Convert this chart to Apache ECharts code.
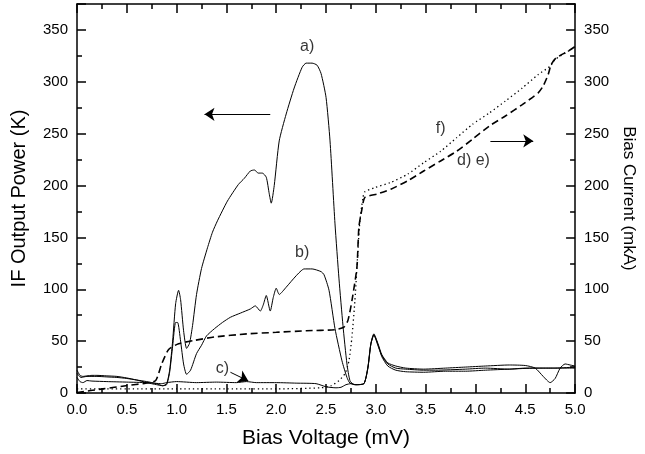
<!DOCTYPE html>
<html>
<head>
<meta charset="utf-8">
<script src="https://cdn.jsdelivr.net/npm/echarts@6/dist/echarts.min.js"></script>
<style>
html,body{margin:0;padding:0;background:#fff;}
#chart{width:645px;height:454px;}
</style>
</head>
<body>
<div id="chart"></div>
<script>
// ---- Data (Bias Voltage mV, value) ----
var xTicks = [0.0, 0.5, 1.0, 1.5, 2.0, 2.5, 3.0, 3.5, 4.0, 4.5, 5.0];
var yTicks = [0, 50, 100, 150, 200, 250, 300, 350];

// IF output power (K), left axis
var curveA = [[0,22],[0.03,17],[0.06,16],[0.1,16.5],[0.15,17],[0.2,17],[0.3,16.5],[0.4,16],[0.5,14.5],[0.6,12.5],[0.7,10],[0.8,8],[0.86,7],[0.9,9],[0.93,22],[0.96,50],[0.99,86],[1.02,99],[1.04,90],[1.07,60],[1.1,43],[1.13,48],[1.16,65],[1.2,95],[1.25,120],[1.31,140],[1.36,155],[1.41,166],[1.51,185],[1.62,201],[1.68,207],[1.74,214],[1.78,215],[1.82,212],[1.86,212],[1.9,208],[1.93,192],[1.95,183],[1.98,200],[2.03,243],[2.1,269],[2.18,294],[2.26,314],[2.3,318],[2.36,318],[2.41,316],[2.45,308],[2.5,285],[2.54,243],[2.59,163],[2.63,110],[2.67,65],[2.71,28],[2.74,12],[2.78,8],[2.88,9],[2.92,25],[2.95,48],[2.98,57],[3.02,48],[3.06,37],[3.12,29],[3.2,26],[3.3,24],[3.48,23],[3.7,24],[3.9,25],[4.1,26],[4.34,27],[4.5,26.5],[4.6,24],[4.68,16],[4.75,10],[4.8,14],[4.85,24],[4.9,28],[4.95,27],[5.0,26]];
var curveB = [[0,19],[0.04,15],[0.1,16],[0.2,16],[0.3,15.5],[0.4,15],[0.5,14],[0.6,12.5],[0.7,11],[0.8,9],[0.86,7],[0.9,8],[0.93,20],[0.96,45],[0.99,68],[1.01,68],[1.04,50],[1.07,28],[1.1,18],[1.14,22],[1.2,38],[1.25,46],[1.3,55],[1.38,62],[1.46,68],[1.54,73],[1.64,77],[1.74,81],[1.79,84],[1.84,79],[1.87,85],[1.9,94],[1.94,79],[1.97,92],[2.0,101],[2.03,95],[2.1,102],[2.2,113],[2.28,119.6],[2.36,119.6],[2.45,117],[2.48,114],[2.53,99],[2.59,62],[2.66,31],[2.71,15],[2.74,9.6],[2.8,8],[2.88,9],[2.92,24],[2.95,47],[2.98,56],[3.02,47],[3.06,35],[3.12,26],[3.2,22],[3.3,20.5],[3.48,20],[3.7,21],[3.9,21],[4.1,22],[4.34,23],[4.6,24],[4.8,24],[5.0,25]];
var curveC = [[0,15],[0.03,11],[0.06,10],[0.1,12],[0.15,11.5],[0.3,11],[0.5,10.5],[0.7,10],[0.85,9],[0.9,10],[1.0,11],[1.2,10],[1.4,10.5],[1.6,10],[1.7,11],[1.8,10],[2.0,10],[2.2,9.5],[2.4,9],[2.5,6],[2.6,5],[2.65,5.5],[2.7,8],[2.75,9],[2.8,8],[2.88,9],[2.92,24],[2.95,47],[2.98,56],[3.02,46],[3.06,36],[3.12,28],[3.2,24],[3.3,23],[3.48,22],[3.6,22],[3.9,23],[4.1,24],[4.34,23],[4.5,24],[4.7,24],[5.0,24]];

// Bias current (mkA), right axis
var curveDE = [[0,0.5],[0.26,4],[0.49,7],[0.69,9.5],[0.79,12],[0.85,28],[0.92,42],[1.02,47.5],[1.18,50.7],[1.38,54],[1.71,57],[2.0,58.5],[2.3,60],[2.59,61],[2.68,63.5],[2.72,70],[2.76,89],[2.81,121],[2.83,160],[2.86,177],[2.89,188.5],[3.02,192],[3.15,196.5],[3.32,204.5],[3.48,214],[3.65,223.7],[3.81,233],[3.97,244.6],[4.14,257.4],[4.3,267],[4.47,278],[4.63,289.4],[4.68,296],[4.73,307],[4.76,316.7],[4.81,323],[4.93,329.5],[5.0,334]];
var curveF = [[0,4],[0.5,4],[1.0,4],[1.5,4],[2.0,4],[2.45,5],[2.55,7],[2.63,12],[2.69,18.6],[2.73,31],[2.76,54],[2.79,89],[2.82,137],[2.84,166],[2.87,188],[2.89,194],[2.99,198],[3.15,203],[3.32,211],[3.48,222],[3.65,233],[3.81,246],[3.97,259],[4.14,270],[4.3,281.4],[4.47,294],[4.63,307],[4.75,315],[4.8,321.5],[4.93,329.5],[5.0,334]];

// Annotations
var labelNames = ['a)', 'b)', 'c)', 'f)', 'd) e)'];
var labelPos = [[2.31,333.5],[2.26,135.7],[1.46,23.8],[3.65,255],[3.98,224.5]];
var arrowLeft = [[1.94,268.6],[1.28,268.6]];
var arrowRight = [[4.15,243],[4.58,243]];
var arrowC = [[1.54,20],[1.72,11.6]];

var FONT = 'Liberation Sans, Arial, sans-serif';
var chart = echarts.init(document.getElementById('chart'), null, {renderer:'canvas'});

function fmtX(v){ return xTicks.indexOf(Math.round(v*10)/10) >= 0 ? v.toFixed(1) : ''; }
function fmtY(v){ return yTicks.indexOf(v) >= 0 ? String(v) : ''; }

function axLine(){ return {show:true, onZero:false, lineStyle:{color:'#000', width:1.5}}; }
function tick(){ return {show:true, inside:true, length:9, lineStyle:{color:'#000', width:1.5}}; }
function minor(){ return {show:true, splitNumber:2, length:5, lineStyle:{color:'#000', width:1.5}}; }

function arrowLine(pts){
  return [{coord:pts[0]},{coord:pts[1]}];
}

var option = {
  animation:false,
  backgroundColor:'#fff',
  grid:{left:77, right:61, top:4, bottom:61},
  xAxis:[
    {type:'value', position:'bottom', min:0, max:5, interval:0.5,
     axisLine:axLine(), axisTick:tick(), minorTick:minor(), splitLine:{show:false},
     axisLabel:{color:'#000', fontFamily:FONT, fontSize:15, margin:9, formatter:fmtX},
     name:'Bias Voltage (mV)', nameLocation:'middle', nameGap:35,
     nameTextStyle:{color:'#000', fontFamily:FONT, fontSize:21}},
    {type:'value', position:'top', min:0, max:5, interval:0.5,
     axisLine:axLine(), axisTick:tick(), minorTick:minor(), splitLine:{show:false},
     axisLabel:{show:false}}
  ],
  yAxis:[
    {type:'value', position:'left', min:0, max:375, interval:50,
     axisLine:axLine(), axisTick:tick(), minorTick:minor(), splitLine:{show:false},
     axisLabel:{color:'#000', fontFamily:FONT, fontSize:15, margin:9, formatter:fmtY, showMaxLabel:false},
     name:'IF Output Power (K)', nameLocation:'middle', nameGap:48, nameRotate:90,
     nameTextStyle:{color:'#000', fontFamily:FONT, fontSize:20}},
    {type:'value', position:'right', min:0, max:375, interval:50,
     axisLine:axLine(), axisTick:tick(), minorTick:minor(), splitLine:{show:false},
     axisLabel:{color:'#000', fontFamily:FONT, fontSize:15, margin:9, formatter:fmtY, showMaxLabel:false},
     name:'Bias Current (mkA)', nameLocation:'middle', nameGap:44, nameRotate:-90,
     nameTextStyle:{color:'#000', fontFamily:FONT, fontSize:17}}
  ],
  series:[
    {type:'line', name:'a', data:curveA, xAxisIndex:0, yAxisIndex:0, showSymbol:false, smooth:0.2,
     lineStyle:{color:'#000', width:1}},
    {type:'line', name:'b', data:curveB, xAxisIndex:0, yAxisIndex:0, showSymbol:false, smooth:0.2,
     lineStyle:{color:'#000', width:1}},
    {type:'line', name:'c', data:curveC, xAxisIndex:0, yAxisIndex:0, showSymbol:false, smooth:0.2,
     lineStyle:{color:'#000', width:1}},
    {type:'line', name:'de', data:curveDE, xAxisIndex:0, yAxisIndex:1, showSymbol:false, smooth:0.2,
     lineStyle:{color:'#000', width:1.6, type:[7,4]}},
    {type:'line', name:'f', data:curveF, xAxisIndex:0, yAxisIndex:1, showSymbol:false, smooth:0.2,
     lineStyle:{color:'#000', width:1.3, type:[1.3,3]}},
    {type:'scatter', name:'labels', xAxisIndex:0, yAxisIndex:0, symbolSize:0,
     data:labelPos.map(function(p,i){return {value:p, name:labelNames[i]};}),
     label:{show:true, position:'inside', formatter:function(p){return p.name;},
            color:'#000', fontFamily:FONT, fontSize:16}},
    {type:'line', name:'arrows', xAxisIndex:0, yAxisIndex:0, data:[], showSymbol:false,
     markLine:{silent:true, symbol:['none','arrow'], symbolSize:10, precision:3,
       label:{show:false}, lineStyle:{color:'#000', width:1, type:'solid'},
       itemStyle:{color:'#000'},
       data:[arrowLine(arrowLeft), arrowLine(arrowRight), arrowLine(arrowC)]}}
  ]
};
chart.setOption(option);
</script>
</body>
</html>
